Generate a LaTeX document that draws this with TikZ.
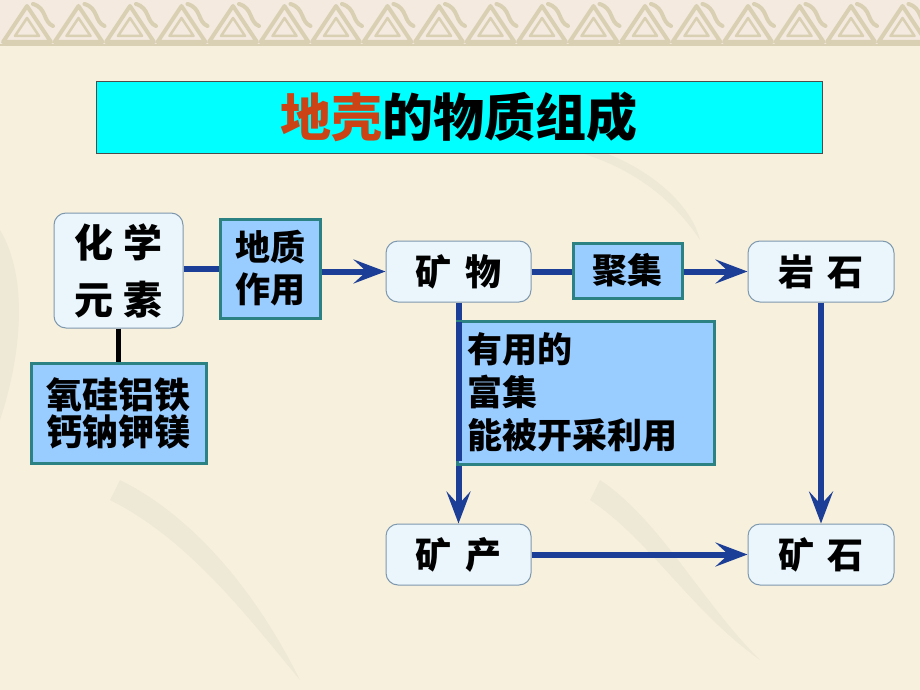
\documentclass[tikz,border=0pt]{standalone}
\usepackage{fontspec}
\newfontfamily\cjk{Noto Sans CJK SC}
\usetikzlibrary{arrows.meta}
\definecolor{bg}{HTML}{F6F0DD}
\definecolor{band}{HTML}{F4EADF}
\definecolor{pat}{HTML}{D9D0B4}
\definecolor{ink}{HTML}{EEE8D6}
\definecolor{cyanfill}{HTML}{00FFFF}
\definecolor{bluefill}{HTML}{99CCFF}
\definecolor{tealedge}{HTML}{2C8282}
\definecolor{roundfill}{HTML}{EAF6FC}
\definecolor{roundedge}{HTML}{7E98AE}
\definecolor{flow}{HTML}{1C3E96}
\definecolor{titlered}{HTML}{CC4416}
\tikzset{
  roundbox/.style={draw=roundedge, line width=1pt, fill=roundfill, rounded corners=12pt, inner sep=0pt, font=\cjk\bfseries},
  bluebox/.style={draw=tealedge, line width=3pt, fill=bluefill, inner sep=0pt, font=\cjk\bfseries},
  flowline/.style={draw=flow, line width=6pt},
  flowarrow/.style={draw=flow, line width=6pt, -{Stealth[length=32pt, width=24pt, inset=13pt]}},
}
\begin{document}
\begin{tikzpicture}[x=1pt, y=-1pt]
\useasboundingbox (0,0) rectangle (920,690);
\fill[bg] (0,0) rectangle (920,690);
% faint background brushwork
\fill[ink] (520,140) .. controls (600,150) and (660,180) .. (700,240) .. controls (690,200) and (640,160) .. (580,145) -- cycle;
\fill[ink] (0,230) .. controls (30,280) and (20,360) .. (0,420) -- cycle;
\fill[ink] (120,480) .. controls (200,520) and (260,600) .. (300,680) .. controls (250,620) and (190,540) .. (110,500) -- cycle;
\fill[ink] (600,480) .. controls (660,520) and (700,600) .. (760,660) .. controls (690,610) and (650,540) .. (590,500) -- cycle;
% top ornamental band
\fill[band] (0,0) rectangle (920,45);
\foreach \i in {0,...,18} {
  \pgfmathsetmacro{\xa}{3+\i*51.5}
  \draw[pat, line width=4pt, line join=round] (\xa,42) -- (\xa+24,6) -- (\xa+48,42) -- cycle;
  \draw[pat, line width=2.5pt, line join=round] (\xa+12,36) -- (\xa+24,18) -- (\xa+36,36) -- cycle;
  \draw[pat, line width=4pt, line cap=round] (\xa+30,4) .. controls (\xa+44,8) and (\xa+40,22) .. (\xa+50,26);
}
\draw[pat, line width=2pt] (0,45) -- (920,45);

% title
\node[draw=black!70, line width=1pt, fill=cyanfill, minimum width=726pt, minimum height=71pt, inner sep=0pt,
      font=\cjk\bfseries\fontsize{51}{56}\selectfont] (title) at (459,117.5)
      {\textcolor{titlered}{地壳}的物质组成};

% nodes
\node[roundbox, minimum width=129pt, minimum height=115pt, align=center,
      font=\cjk\bfseries\fontsize{39}{57}\selectfont] (elem) at (118.5,270.5) {化\hspace{10pt}学\\元\hspace{10pt}素};
\node[bluebox, minimum width=100pt, minimum height=99pt, align=center,
      font=\cjk\bfseries\fontsize{35}{42}\selectfont] (geo) at (270,268.5) {地质\\作用};
\node[bluebox, minimum width=175pt, minimum height=100pt, align=center,
      font=\cjk\bfseries\fontsize{36}{37}\selectfont] (list) at (118.5,413) {氧硅铝铁\\钙钠钾镁};
\node[roundbox, minimum width=145pt, minimum height=61pt,
      font=\cjk\bfseries\fontsize{36}{40}\selectfont] (mineral) at (458.5,271.5) {矿\hspace{14pt}物};
\node[bluebox, minimum width=109pt, minimum height=55pt,
      font=\cjk\bfseries\fontsize{35}{40}\selectfont] (gather) at (627.5,270.5) {聚集};
\node[roundbox, minimum width=146pt, minimum height=61pt,
      font=\cjk\bfseries\fontsize{36}{40}\selectfont] (rock) at (821,271.5) {岩\hspace{14pt}石};
\node[roundbox, minimum width=145pt, minimum height=61pt,
      font=\cjk\bfseries\fontsize{36}{40}\selectfont] (deposit) at (458.5,554.5) {矿\hspace{14pt}产};
\node[roundbox, minimum width=146pt, minimum height=61pt,
      font=\cjk\bfseries\fontsize{36}{40}\selectfont] (ore) at (821,554.5) {矿\hspace{14pt}石};

% connectors
\draw[black, line width=5pt] (elem.south) -- (list.north);
\draw[flowline] (elem.east |- geo.west) -- (geo.west);
\draw[flowarrow] (geo.east |- mineral.west) -- (mineral.west);
\draw[flowline] (mineral.east) -- (gather.west |- mineral.east);
\draw[flowarrow] (gather.east |- rock.west) -- (rock.west);
\draw[flowarrow] (mineral.south) -- (deposit.north);
\draw[flowarrow] (rock.south) -- (ore.north);
\draw[flowarrow] (deposit.east) -- (ore.west);

% condition box (drawn over the vertical line)
\node[bluebox, minimum width=257pt, minimum height=143pt, anchor=north west] (cond) at (456,320) {};
\node[font=\cjk\bfseries\fontsize{35}{43}\selectfont, align=left, anchor=north west, inner sep=0pt] (condtext) at (467,332)
      {有用的\\富集\\能被开采利用};
\draw[flowline] (458.5,322) -- (458.5,461);
\end{tikzpicture}
\end{document}
